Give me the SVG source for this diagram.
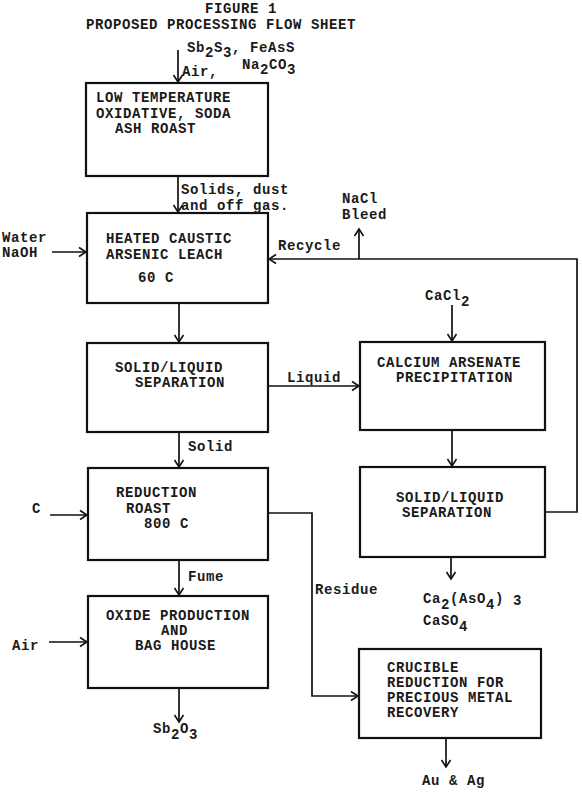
<svg xmlns="http://www.w3.org/2000/svg" width="582" height="792" viewBox="0 0 582 792">
<style>
text{font-family:"Liberation Mono","Courier New",monospace;font-size:14px;letter-spacing:0.6px;font-weight:bold;fill:#1a1a1a}
.box{fill:none;stroke:#111;stroke-width:2.2}
.ln{fill:none;stroke:#111;stroke-width:1.7}
</style>
<defs>
<marker id="ah" markerUnits="userSpaceOnUse" markerWidth="12" markerHeight="12" refX="0" refY="0" viewBox="-9 -6 10 12" orient="auto">
<path d="M-7,-4.5 L0,0 L-7,4.5" fill="none" stroke="#111" stroke-width="1.6"/>
</marker>
</defs>
<rect width="582" height="792" fill="#fff"/>
<g id="title">
<text x="205" y="13">FIGURE 1</text>
<text x="86" y="29">PROPOSED PROCESSING FLOW SHEET</text>
</g>
<g id="feed-labels">
<text x="187" y="52">Sb<tspan dy="5">2</tspan><tspan dy="-5">S</tspan><tspan dy="5">3</tspan><tspan dy="-5">, FeAsS</tspan></text>
<text x="182" y="76">Air,</text>
<text x="242" y="69">Na<tspan dy="5">2</tspan><tspan dy="-5">CO</tspan><tspan dy="5">3</tspan></text>
</g>
<g id="n1">
<rect class="box" x="86" y="83" width="182" height="93"/>
<text x="96" y="102">LOW TEMPERATURE</text>
<text x="96" y="118">OXIDATIVE, SODA</text>
<text x="115" y="133">ASH ROAST</text>
</g>
<g id="n2">
<rect class="box" x="87" y="213" width="181" height="90"/>
<text x="106" y="243">HEATED CAUSTIC</text>
<text x="106" y="259">ARSENIC LEACH</text>
<text x="138" y="282">60 C</text>
</g>
<g id="n3">
<rect class="box" x="87" y="343" width="181" height="89"/>
<text x="115" y="372">SOLID/LIQUID</text>
<text x="135" y="387">SEPARATION</text>
</g>
<g id="n4">
<rect class="box" x="88" y="468" width="180" height="92"/>
<text x="116" y="497">REDUCTION</text>
<text x="126" y="513">ROAST</text>
<text x="144" y="528">800 C</text>
</g>
<g id="n5">
<rect class="box" x="88" y="596" width="180" height="92"/>
<text x="106" y="620">OXIDE PRODUCTION</text>
<text x="161" y="635">AND</text>
<text x="135" y="650">BAG HOUSE</text>
</g>
<g id="n6">
<rect class="box" x="360" y="342" width="185" height="88"/>
<text x="377" y="367">CALCIUM ARSENATE</text>
<text x="396" y="382">PRECIPITATION</text>
</g>
<g id="n7">
<rect class="box" x="360" y="467" width="185" height="90"/>
<text x="396" y="502">SOLID/LIQUID</text>
<text x="402" y="517">SEPARATION</text>
</g>
<g id="n8">
<rect class="box" x="359" y="649" width="182" height="89"/>
<text x="387" y="672">CRUCIBLE</text>
<text x="387" y="687">REDUCTION FOR</text>
<text x="387" y="702">PRECIOUS METAL</text>
<text x="387" y="717">RECOVERY</text>
</g>
<g id="labels">
<text x="181" y="194">Solids, dust</text>
<text x="181" y="210">and off gas.</text>
<text x="2" y="242">Water</text>
<text x="2" y="257">NaOH</text>
<text x="278" y="250">Recycle</text>
<text x="342" y="203">NaCl</text>
<text x="342" y="219">Bleed</text>
<text x="425" y="300">CaCl<tspan dy="6">2</tspan></text>
<text x="287" y="382">Liquid</text>
<text x="188" y="451">Solid</text>
<text x="32" y="513">C</text>
<text x="188" y="581">Fume</text>
<text x="315" y="594">Residue</text>
<text x="12" y="650">Air</text>
<text x="423" y="603">Ca<tspan dy="6">2</tspan><tspan dy="-6">(AsO</tspan><tspan dy="6">4</tspan><tspan dy="-6">)</tspan><tspan dy="2"> 3</tspan></text>
<text x="423" y="625">CaSO<tspan dy="6">4</tspan></text>
<text x="153" y="733">Sb<tspan dy="6">2</tspan><tspan dy="-6">O</tspan><tspan dy="6">3</tspan></text>
<text x="422" y="785">Au &amp; Ag</text>
</g>
<g id="connectors">
<path class="ln" d="M178,50 V82" marker-end="url(#ah)"/>
<path class="ln" d="M178,176 V212" marker-end="url(#ah)"/>
<path class="ln" d="M179,303 V342" marker-end="url(#ah)"/>
<path class="ln" d="M179,432 V467" marker-end="url(#ah)"/>
<path class="ln" d="M179,560 V595" marker-end="url(#ah)"/>
<path class="ln" d="M179,688 V722" marker-end="url(#ah)"/>
<path class="ln" d="M52,252 H86" marker-end="url(#ah)"/>
<path class="ln" d="M50,515 H87" marker-end="url(#ah)"/>
<path class="ln" d="M49,642 H87" marker-end="url(#ah)"/>
<path class="ln" d="M268,386 H359" marker-end="url(#ah)"/>
<path class="ln" d="M545,512 H577 V259 H269" marker-end="url(#ah)"/>
<path class="ln" d="M359,259 V229" marker-end="url(#ah)"/>
<path class="ln" d="M452,305 V341" marker-end="url(#ah)"/>
<path class="ln" d="M452,430 V466" marker-end="url(#ah)"/>
<path class="ln" d="M451,557 V579" marker-end="url(#ah)"/>
<path class="ln" d="M268,513 H312 V696 H358" marker-end="url(#ah)"/>
<path class="ln" d="M446,738 V767" marker-end="url(#ah)"/>
</g>
</svg>
